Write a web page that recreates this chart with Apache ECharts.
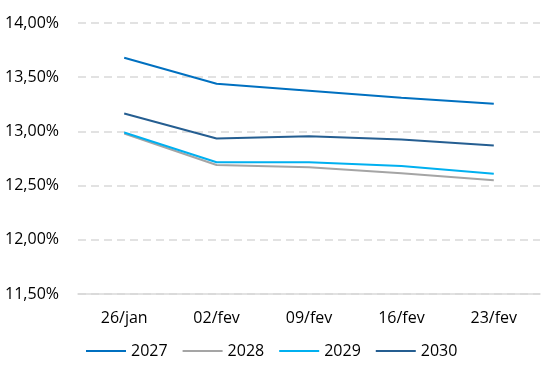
<!DOCTYPE html>
<html><head><meta charset="utf-8">
<script src="https://cdn.jsdelivr.net/npm/echarts@6/dist/echarts.min.js"></script>
<style>html,body{margin:0;padding:0;background:#fff}#c{width:547px;height:384px}</style>
</head><body><div id="c"></div>
<script>
const categories = ['26/jan', '02/fev', '09/fev', '16/fev', '23/fev'];
const s2027 = [13.68, 13.44, 13.375, 13.31, 13.255];
const s2028 = [12.98, 12.69, 12.67, 12.615, 12.55];
const s2029 = [12.99, 12.715, 12.715, 12.68, 12.61];
const s2030 = [13.165, 12.935, 12.955, 12.925, 12.87];
const seriesNames = ['2027', '2028', '2029', '2030'];
const colors = ['#0070C0', '#A5A5A5', '#00B0F0', '#255E91'];
const yTicks = { min: 11.5, max: 14, interval: 0.5 };

const font = 'Open Sans';
const data = [s2027, s2028, s2029, s2030];
const chart = echarts.init(document.getElementById('c'), null, { renderer: 'canvas' });
chart.setOption({
  animation: false,
  color: colors,
  grid: { left: 78, right: 7, top: 23, bottom: 90 },
  legend: {
    bottom: 20, left: 81,
    icon: 'rect', itemWidth: 40, itemHeight: 2, itemGap: 15,
    textStyle: { fontFamily: font, fontSize: 16, color: '#000' },
    data: seriesNames
  },
  xAxis: {
    type: 'category', data: categories, boundaryGap: true,
    axisLine: { show: true, lineStyle: { color: '#D9D9D9', width: 1.5 } },
    axisTick: { show: false },
    axisLabel: { fontFamily: font, fontSize: 16, color: '#000', margin: 16 }
  },
  yAxis: {
    type: 'value', min: yTicks.min, max: yTicks.max, interval: yTicks.interval,
    axisLine: { show: false }, axisTick: { show: false },
    axisLabel: { fontFamily: font, fontSize: 16, color: '#000', margin: 19,
      formatter: v => v.toFixed(2).replace('.', ',') + '%' },
    splitLine: { lineStyle: { color: '#D9D9D9', type: [8, 5], width: 1.5 } }
  },
  series: data.map((d, i) => ({
    name: seriesNames[i], type: 'line', data: d,
    symbol: 'none', lineStyle: { width: 2 }
  }))
});
</script></body></html>
